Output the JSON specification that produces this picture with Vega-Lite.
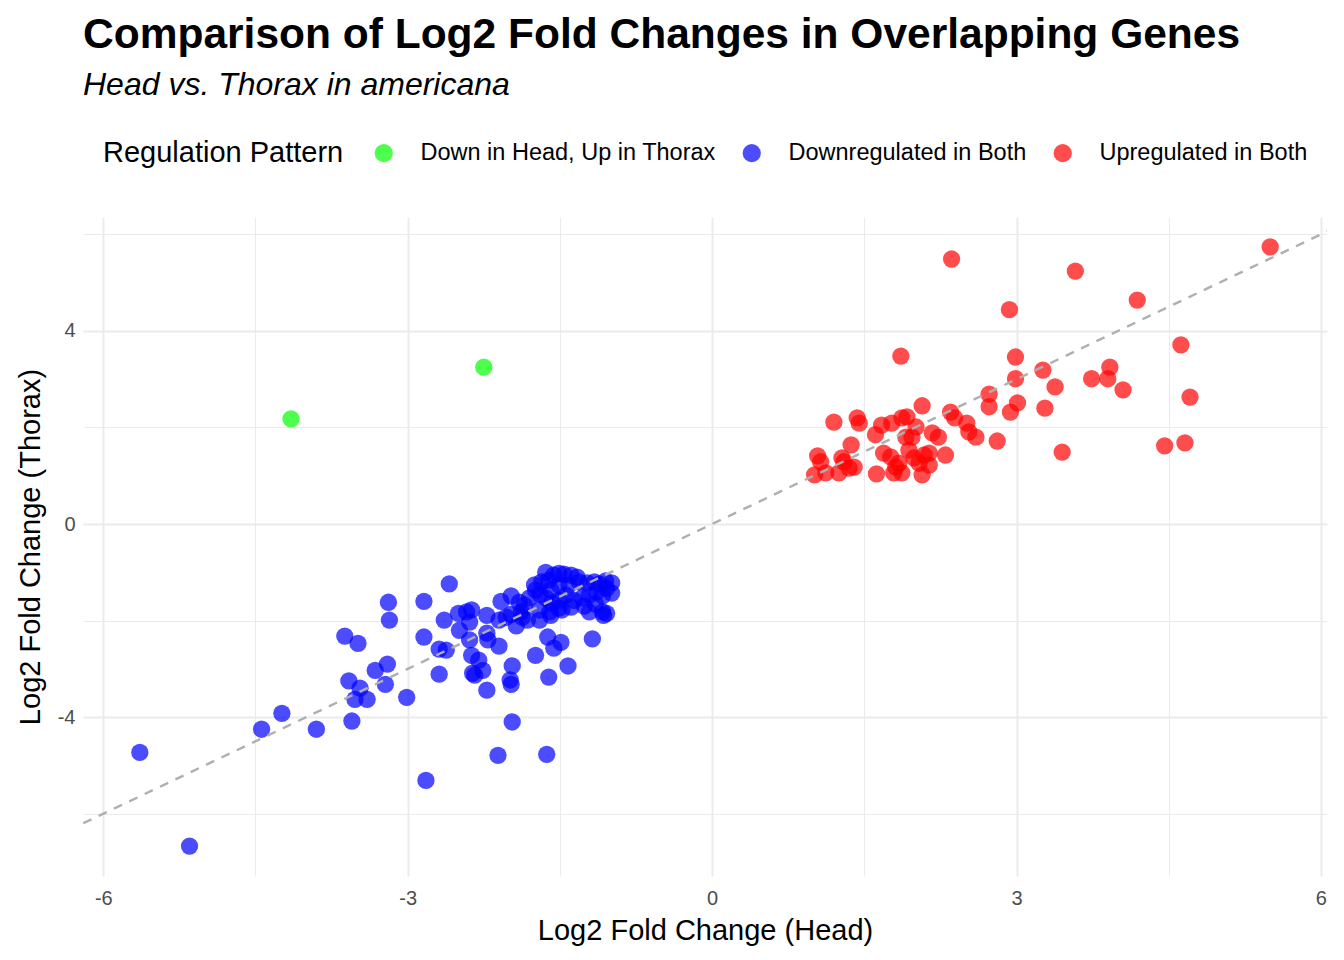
{
  "$schema": "https://vega.github.io/schema/vega-lite/v6.json",
  "autosize": {"type": "none"},
  "width": 1244,
  "height": 659,
  "padding": {"left": 83, "top": 217, "right": 17, "bottom": 84},
  "background": "white",
  "title": {
    "text": "Comparison of Log2 Fold Changes in Overlapping Genes",
    "subtitle": "Head vs. Thorax in americana",
    "anchor": "start",
    "frame": "group",
    "font": "Liberation Sans",
    "fontSize": 42.5,
    "fontWeight": "bold",
    "color": "black",
    "subtitleFont": "Liberation Sans",
    "subtitleFontSize": 32,
    "subtitleFontStyle": "italic",
    "subtitleColor": "black",
    "subtitlePadding": 14,
    "offset": 40
  },
  "config": {
    "view": {"stroke": null},
    "font": "Liberation Sans"
  },
  "layer": [
    {
      "data": {
        "values": [
          {"head": -2.25, "thorax": 3.25, "pattern": "Down in Head, Up in Thorax"},
          {"head": -4.15, "thorax": 2.18, "pattern": "Down in Head, Up in Thorax"},
          {"head": -5.64, "thorax": -4.73, "pattern": "Downregulated in Both"},
          {"head": -5.15, "thorax": -6.67, "pattern": "Downregulated in Both"},
          {"head": -4.44, "thorax": -4.25, "pattern": "Downregulated in Both"},
          {"head": -4.24, "thorax": -3.92, "pattern": "Downregulated in Both"},
          {"head": -3.90, "thorax": -4.25, "pattern": "Downregulated in Both"},
          {"head": -3.55, "thorax": -4.08, "pattern": "Downregulated in Both"},
          {"head": -3.62, "thorax": -2.32, "pattern": "Downregulated in Both"},
          {"head": -3.49, "thorax": -2.47, "pattern": "Downregulated in Both"},
          {"head": -3.58, "thorax": -3.25, "pattern": "Downregulated in Both"},
          {"head": -3.52, "thorax": -3.63, "pattern": "Downregulated in Both"},
          {"head": -3.47, "thorax": -3.40, "pattern": "Downregulated in Both"},
          {"head": -3.40, "thorax": -3.63, "pattern": "Downregulated in Both"},
          {"head": -3.32, "thorax": -3.03, "pattern": "Downregulated in Both"},
          {"head": -3.20, "thorax": -2.90, "pattern": "Downregulated in Both"},
          {"head": -3.22, "thorax": -3.32, "pattern": "Downregulated in Both"},
          {"head": -3.19, "thorax": -1.62, "pattern": "Downregulated in Both"},
          {"head": -3.18, "thorax": -1.99, "pattern": "Downregulated in Both"},
          {"head": -3.01, "thorax": -3.59, "pattern": "Downregulated in Both"},
          {"head": -2.84, "thorax": -2.34, "pattern": "Downregulated in Both"},
          {"head": -2.84, "thorax": -1.60, "pattern": "Downregulated in Both"},
          {"head": -2.82, "thorax": -5.31, "pattern": "Downregulated in Both"},
          {"head": -2.69, "thorax": -2.59, "pattern": "Downregulated in Both"},
          {"head": -2.69, "thorax": -3.11, "pattern": "Downregulated in Both"},
          {"head": -2.62, "thorax": -2.61, "pattern": "Downregulated in Both"},
          {"head": -2.64, "thorax": -1.99, "pattern": "Downregulated in Both"},
          {"head": -2.59, "thorax": -1.24, "pattern": "Downregulated in Both"},
          {"head": -2.50, "thorax": -1.85, "pattern": "Downregulated in Both"},
          {"head": -2.49, "thorax": -2.20, "pattern": "Downregulated in Both"},
          {"head": -2.42, "thorax": -1.82, "pattern": "Downregulated in Both"},
          {"head": -2.39, "thorax": -2.03, "pattern": "Downregulated in Both"},
          {"head": -2.39, "thorax": -2.40, "pattern": "Downregulated in Both"},
          {"head": -2.37, "thorax": -2.72, "pattern": "Downregulated in Both"},
          {"head": -2.36, "thorax": -3.09, "pattern": "Downregulated in Both"},
          {"head": -2.34, "thorax": -3.13, "pattern": "Downregulated in Both"},
          {"head": -2.30, "thorax": -2.82, "pattern": "Downregulated in Both"},
          {"head": -2.26, "thorax": -3.03, "pattern": "Downregulated in Both"},
          {"head": -2.22, "thorax": -3.44, "pattern": "Downregulated in Both"},
          {"head": -2.22, "thorax": -2.26, "pattern": "Downregulated in Both"},
          {"head": -2.22, "thorax": -1.89, "pattern": "Downregulated in Both"},
          {"head": -2.21, "thorax": -2.40, "pattern": "Downregulated in Both"},
          {"head": -2.10, "thorax": -2.53, "pattern": "Downregulated in Both"},
          {"head": -2.10, "thorax": -1.99, "pattern": "Downregulated in Both"},
          {"head": -2.08, "thorax": -1.60, "pattern": "Downregulated in Both"},
          {"head": -2.11, "thorax": -4.79, "pattern": "Downregulated in Both"},
          {"head": -1.99, "thorax": -3.23, "pattern": "Downregulated in Both"},
          {"head": -1.98, "thorax": -3.32, "pattern": "Downregulated in Both"},
          {"head": -1.97, "thorax": -2.94, "pattern": "Downregulated in Both"},
          {"head": -1.97, "thorax": -4.10, "pattern": "Downregulated in Both"},
          {"head": -1.98, "thorax": -1.87, "pattern": "Downregulated in Both"},
          {"head": -1.93, "thorax": -2.11, "pattern": "Downregulated in Both"},
          {"head": -1.88, "thorax": -1.82, "pattern": "Downregulated in Both"},
          {"head": -1.74, "thorax": -2.72, "pattern": "Downregulated in Both"},
          {"head": -1.63, "thorax": -4.77, "pattern": "Downregulated in Both"},
          {"head": -1.62, "thorax": -2.34, "pattern": "Downregulated in Both"},
          {"head": -1.61, "thorax": -3.17, "pattern": "Downregulated in Both"},
          {"head": -1.56, "thorax": -2.57, "pattern": "Downregulated in Both"},
          {"head": -1.49, "thorax": -2.45, "pattern": "Downregulated in Both"},
          {"head": -1.42, "thorax": -2.94, "pattern": "Downregulated in Both"},
          {"head": -1.18, "thorax": -2.38, "pattern": "Downregulated in Both"},
          {"head": -1.61, "thorax": -1.16, "pattern": "Downregulated in Both"},
          {"head": -1.56, "thorax": -1.06, "pattern": "Downregulated in Both"},
          {"head": -1.51, "thorax": -1.02, "pattern": "Downregulated in Both"},
          {"head": -1.46, "thorax": -1.04, "pattern": "Downregulated in Both"},
          {"head": -1.39, "thorax": -1.06, "pattern": "Downregulated in Both"},
          {"head": -1.33, "thorax": -1.10, "pattern": "Downregulated in Both"},
          {"head": -1.59, "thorax": -1.37, "pattern": "Downregulated in Both"},
          {"head": -1.51, "thorax": -1.26, "pattern": "Downregulated in Both"},
          {"head": -1.41, "thorax": -1.26, "pattern": "Downregulated in Both"},
          {"head": -1.31, "thorax": -1.20, "pattern": "Downregulated in Both"},
          {"head": -1.23, "thorax": -1.22, "pattern": "Downregulated in Both"},
          {"head": -1.16, "thorax": -1.20, "pattern": "Downregulated in Both"},
          {"head": -1.11, "thorax": -1.24, "pattern": "Downregulated in Both"},
          {"head": -1.05, "thorax": -1.18, "pattern": "Downregulated in Both"},
          {"head": -1.04, "thorax": -1.33, "pattern": "Downregulated in Both"},
          {"head": -1.08, "thorax": -1.49, "pattern": "Downregulated in Both"},
          {"head": -1.14, "thorax": -1.41, "pattern": "Downregulated in Both"},
          {"head": -1.21, "thorax": -1.47, "pattern": "Downregulated in Both"},
          {"head": -1.28, "thorax": -1.53, "pattern": "Downregulated in Both"},
          {"head": -1.36, "thorax": -1.58, "pattern": "Downregulated in Both"},
          {"head": -1.44, "thorax": -1.47, "pattern": "Downregulated in Both"},
          {"head": -1.51, "thorax": -1.58, "pattern": "Downregulated in Both"},
          {"head": -1.58, "thorax": -1.64, "pattern": "Downregulated in Both"},
          {"head": -1.64, "thorax": -1.53, "pattern": "Downregulated in Both"},
          {"head": -1.70, "thorax": -1.45, "pattern": "Downregulated in Both"},
          {"head": -1.74, "thorax": -1.37, "pattern": "Downregulated in Both"},
          {"head": -1.80, "thorax": -1.53, "pattern": "Downregulated in Both"},
          {"head": -1.85, "thorax": -1.68, "pattern": "Downregulated in Both"},
          {"head": -1.70, "thorax": -1.78, "pattern": "Downregulated in Both"},
          {"head": -1.60, "thorax": -1.82, "pattern": "Downregulated in Both"},
          {"head": -1.51, "thorax": -1.74, "pattern": "Downregulated in Both"},
          {"head": -1.39, "thorax": -1.72, "pattern": "Downregulated in Both"},
          {"head": -1.26, "thorax": -1.70, "pattern": "Downregulated in Both"},
          {"head": -1.15, "thorax": -1.66, "pattern": "Downregulated in Both"},
          {"head": -1.08, "thorax": -1.82, "pattern": "Downregulated in Both"},
          {"head": -1.07, "thorax": -1.89, "pattern": "Downregulated in Both"},
          {"head": -1.21, "thorax": -1.82, "pattern": "Downregulated in Both"},
          {"head": -1.90, "thorax": -1.62, "pattern": "Downregulated in Both"},
          {"head": -1.98, "thorax": -1.49, "pattern": "Downregulated in Both"},
          {"head": -1.75, "thorax": -1.26, "pattern": "Downregulated in Both"},
          {"head": -1.68, "thorax": -1.20, "pattern": "Downregulated in Both"},
          {"head": -1.64, "thorax": -1.00, "pattern": "Downregulated in Both"},
          {"head": -0.99, "thorax": -1.22, "pattern": "Downregulated in Both"},
          {"head": -0.99, "thorax": -1.43, "pattern": "Downregulated in Both"},
          {"head": -1.04, "thorax": -1.85, "pattern": "Downregulated in Both"},
          {"head": -1.82, "thorax": -1.99, "pattern": "Downregulated in Both"},
          {"head": -1.70, "thorax": -1.99, "pattern": "Downregulated in Both"},
          {"head": -1.59, "thorax": -1.89, "pattern": "Downregulated in Both"},
          {"head": -1.48, "thorax": -1.78, "pattern": "Downregulated in Both"},
          {"head": -2.03, "thorax": -1.93, "pattern": "Downregulated in Both"},
          {"head": -1.87, "thorax": -1.93, "pattern": "Downregulated in Both"},
          {"head": -2.37, "thorax": -1.78, "pattern": "Downregulated in Both"},
          {"head": 2.36, "thorax": 5.49, "pattern": "Upregulated in Both"},
          {"head": 3.58, "thorax": 5.24, "pattern": "Upregulated in Both"},
          {"head": 5.50, "thorax": 5.74, "pattern": "Upregulated in Both"},
          {"head": 2.93, "thorax": 4.44, "pattern": "Upregulated in Both"},
          {"head": 4.19, "thorax": 4.64, "pattern": "Upregulated in Both"},
          {"head": 1.86, "thorax": 3.48, "pattern": "Upregulated in Both"},
          {"head": 2.99, "thorax": 3.46, "pattern": "Upregulated in Both"},
          {"head": 4.62, "thorax": 3.71, "pattern": "Upregulated in Both"},
          {"head": 2.99, "thorax": 3.01, "pattern": "Upregulated in Both"},
          {"head": 3.26, "thorax": 3.19, "pattern": "Upregulated in Both"},
          {"head": 3.38, "thorax": 2.84, "pattern": "Upregulated in Both"},
          {"head": 3.74, "thorax": 3.01, "pattern": "Upregulated in Both"},
          {"head": 3.92, "thorax": 3.25, "pattern": "Upregulated in Both"},
          {"head": 3.90, "thorax": 3.01, "pattern": "Upregulated in Both"},
          {"head": 4.05, "thorax": 2.78, "pattern": "Upregulated in Both"},
          {"head": 4.71, "thorax": 2.63, "pattern": "Upregulated in Both"},
          {"head": 2.73, "thorax": 2.69, "pattern": "Upregulated in Both"},
          {"head": 2.73, "thorax": 2.43, "pattern": "Upregulated in Both"},
          {"head": 2.94, "thorax": 2.32, "pattern": "Upregulated in Both"},
          {"head": 3.01, "thorax": 2.51, "pattern": "Upregulated in Both"},
          {"head": 3.28, "thorax": 2.40, "pattern": "Upregulated in Both"},
          {"head": 2.81, "thorax": 1.72, "pattern": "Upregulated in Both"},
          {"head": 3.45, "thorax": 1.49, "pattern": "Upregulated in Both"},
          {"head": 4.46, "thorax": 1.62, "pattern": "Upregulated in Both"},
          {"head": 4.66, "thorax": 1.68, "pattern": "Upregulated in Both"},
          {"head": 2.35, "thorax": 2.32, "pattern": "Upregulated in Both"},
          {"head": 2.39, "thorax": 2.20, "pattern": "Upregulated in Both"},
          {"head": 2.51, "thorax": 2.09, "pattern": "Upregulated in Both"},
          {"head": 2.60, "thorax": 1.80, "pattern": "Upregulated in Both"},
          {"head": 2.53, "thorax": 1.91, "pattern": "Upregulated in Both"},
          {"head": 2.30, "thorax": 1.43, "pattern": "Upregulated in Both"},
          {"head": 2.23, "thorax": 1.80, "pattern": "Upregulated in Both"},
          {"head": 2.17, "thorax": 1.89, "pattern": "Upregulated in Both"},
          {"head": 2.07, "thorax": 2.45, "pattern": "Upregulated in Both"},
          {"head": 1.92, "thorax": 2.22, "pattern": "Upregulated in Both"},
          {"head": 1.87, "thorax": 2.20, "pattern": "Upregulated in Both"},
          {"head": 1.77, "thorax": 2.09, "pattern": "Upregulated in Both"},
          {"head": 1.67, "thorax": 2.05, "pattern": "Upregulated in Both"},
          {"head": 1.61, "thorax": 1.85, "pattern": "Upregulated in Both"},
          {"head": 1.43, "thorax": 2.20, "pattern": "Upregulated in Both"},
          {"head": 1.45, "thorax": 2.09, "pattern": "Upregulated in Both"},
          {"head": 1.20, "thorax": 2.11, "pattern": "Upregulated in Both"},
          {"head": 1.37, "thorax": 1.64, "pattern": "Upregulated in Both"},
          {"head": 1.30, "thorax": 1.29, "pattern": "Upregulated in Both"},
          {"head": 1.04, "thorax": 1.41, "pattern": "Upregulated in Both"},
          {"head": 1.07, "thorax": 1.29, "pattern": "Upregulated in Both"},
          {"head": 1.01, "thorax": 1.02, "pattern": "Upregulated in Both"},
          {"head": 1.12, "thorax": 1.06, "pattern": "Upregulated in Both"},
          {"head": 1.25, "thorax": 1.06, "pattern": "Upregulated in Both"},
          {"head": 1.35, "thorax": 1.16, "pattern": "Upregulated in Both"},
          {"head": 1.40, "thorax": 1.18, "pattern": "Upregulated in Both"},
          {"head": 1.62, "thorax": 1.04, "pattern": "Upregulated in Both"},
          {"head": 1.69, "thorax": 1.47, "pattern": "Upregulated in Both"},
          {"head": 1.76, "thorax": 1.39, "pattern": "Upregulated in Both"},
          {"head": 1.81, "thorax": 1.18, "pattern": "Upregulated in Both"},
          {"head": 1.87, "thorax": 1.06, "pattern": "Upregulated in Both"},
          {"head": 1.94, "thorax": 1.53, "pattern": "Upregulated in Both"},
          {"head": 1.97, "thorax": 1.80, "pattern": "Upregulated in Both"},
          {"head": 2.01, "thorax": 2.01, "pattern": "Upregulated in Both"},
          {"head": 1.99, "thorax": 1.37, "pattern": "Upregulated in Both"},
          {"head": 2.04, "thorax": 1.26, "pattern": "Upregulated in Both"},
          {"head": 2.07, "thorax": 1.02, "pattern": "Upregulated in Both"},
          {"head": 2.14, "thorax": 1.22, "pattern": "Upregulated in Both"},
          {"head": 2.14, "thorax": 1.47, "pattern": "Upregulated in Both"},
          {"head": 1.84, "thorax": 1.26, "pattern": "Upregulated in Both"},
          {"head": 1.91, "thorax": 1.80, "pattern": "Upregulated in Both"},
          {"head": 1.79, "thorax": 1.06, "pattern": "Upregulated in Both"},
          {"head": 2.09, "thorax": 1.43, "pattern": "Upregulated in Both"},
          {"head": 1.28, "thorax": 1.37, "pattern": "Upregulated in Both"}
        ]
      },
      "mark": {
        "type": "point",
        "filled": true,
        "shape": "circle",
        "size": 300,
        "fillOpacity": 0.7,
        "strokeOpacity": 0.7,
        "strokeWidth": 1
      },
      "encoding": {
        "x": {
          "field": "head",
          "type": "quantitative",
          "scale": {"domain": [-6.2, 6.06], "nice": false, "zero": false},
          "axis": {
            "orient": "bottom",
            "values": [-6, -3, 0, 3, 6],
            "labelExpr": "'' + datum.value",
            "grid": true,
            "gridColor": "#EBEBEB",
            "gridWidth": 2,
            "domain": false,
            "ticks": false,
            "labelFont": "Liberation Sans",
            "labelFontSize": 20,
            "labelColor": "#4D4D4D",
            "labelPadding": 12,
            "title": "Log2 Fold Change (Head)",
            "titleFont": "Liberation Sans",
            "titleFontSize": 29,
            "titleFontWeight": "normal",
            "titleColor": "black",
            "titlePadding": 8
          }
        },
        "y": {
          "field": "thorax",
          "type": "quantitative",
          "scale": {"domain": [-7.29, 6.36], "nice": false, "zero": false},
          "axis": {
            "orient": "left",
            "values": [-4, 0, 4],
            "labelExpr": "'' + datum.value",
            "grid": true,
            "gridColor": "#EBEBEB",
            "gridWidth": 2,
            "domain": false,
            "ticks": false,
            "labelFont": "Liberation Sans",
            "labelFontSize": 20,
            "labelColor": "#4D4D4D",
            "labelPadding": 8,
            "title": "Log2 Fold Change (Thorax)",
            "titleFont": "Liberation Sans",
            "titleFontSize": 29,
            "titleFontWeight": "normal",
            "titleColor": "black",
            "titlePadding": 12
          }
        },
        "color": {
          "field": "pattern",
          "type": "nominal",
          "scale": {
            "domain": ["Down in Head, Up in Thorax", "Downregulated in Both", "Upregulated in Both"],
            "range": ["#00FF00", "#0000FF", "#FF0000"]
          },
          "legend": {
            "title": "Regulation Pattern",
            "orient": "none",
            "legendX": 20,
            "legendY": -76,
            "direction": "horizontal",
            "titleOrient": "left",
            "titleFont": "Liberation Sans",
            "titleFontSize": 29,
            "titleFontWeight": "normal",
            "titleColor": "black",
            "titlePadding": 28,
            "titleLimit": 0,
            "labelFont": "Liberation Sans",
            "labelFontSize": 23.5,
            "labelColor": "black",
            "labelOffset": 25,
            "labelLimit": 0,
            "symbolType": "circle",
            "symbolSize": 330,
            "symbolOpacity": 0.7,
            "symbolStrokeWidth": 0,
            "columnPadding": 24
          }
        }
      }
    },
    {
      "data": {"values": [{"x": -6.5, "y": -6.5}, {"x": 6.5, "y": 6.5}]},
      "mark": {
        "type": "line",
        "clip": true,
        "color": "#AFAFAF",
        "strokeWidth": 2.4,
        "strokeDash": [9, 8]
      },
      "encoding": {
        "x": {
          "field": "x",
          "type": "quantitative",
          "scale": {"domain": [-6.2, 6.06], "nice": false, "zero": false},
          "axis": {
            "orient": "top",
            "values": [-4.5, -1.5, 1.5, 4.5],
            "grid": true,
            "gridColor": "#EBEBEB",
            "gridWidth": 1,
            "domain": false,
            "ticks": false,
            "labels": false,
            "title": null
          }
        },
        "y": {
          "field": "y",
          "type": "quantitative",
          "scale": {"domain": [-7.29, 6.36], "nice": false, "zero": false},
          "axis": {
            "orient": "right",
            "values": [-6, -2, 2, 6],
            "grid": true,
            "gridColor": "#EBEBEB",
            "gridWidth": 1,
            "domain": false,
            "ticks": false,
            "labels": false,
            "title": null
          }
        }
      }
    }
  ]
}
